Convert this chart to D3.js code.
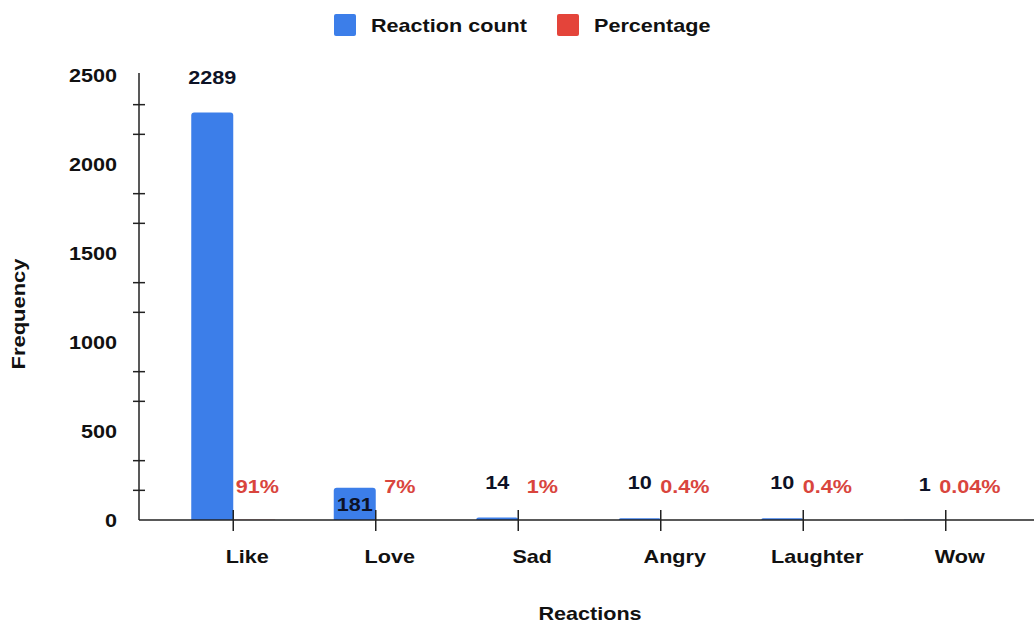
<!DOCTYPE html>
<html>
<head>
<meta charset="utf-8">
<script src="https://cdn.jsdelivr.net/npm/d3@7/dist/d3.min.js"></script>
<style>
  html, body { margin: 0; padding: 0; background: #fff; }
  svg { display: block; font-family: "Liberation Sans", Arial, sans-serif; font-weight: bold; }
</style>
</head>
<body>
<div id="chart"></div>
<script>
var categories = ["Like", "Love", "Sad", "Angry", "Laughter", "Wow"];
var reactionCount = [2289, 181, 14, 10, 10, 1];
var percentage = [0.91, 0.07, 0.01, 0.004, 0.004, 0.0004];
var percentLabels = ["91%", "7%", "1%", "0.4%", "0.4%", "0.04%"];
var yTicks = [0, 500, 1000, 1500, 2000, 2500];
var seriesNames = ["Reaction count", "Percentage"];

var blue = "#3c7ee9", red = "#e4443a", redText = "#d9453d";
var stretch = 1.2; // the reference text is drawn a little wide
var fontSize = 18;

var W = 1034, H = 624;
var svg = d3.select("#chart").append("svg")
    .attr("width", W).attr("height", H);

var y = d3.scaleLinear().domain([0, 2500]).range([520, 75]);
var x = d3.scaleBand().domain(categories).range([162, 1017]).padding(0);
var inner = d3.scaleBand().domain(seriesNames).range([-42, 42]).padding(0);
function cx(c) { return x(c) + x.bandwidth() / 2; }

function label(g, px, py, txt, anchor) {
    return g.append("text")
        .attr("transform", "translate(" + px + "," + py + ") scale(" + stretch + ",1)")
        .attr("text-anchor", anchor || "middle")
        .style("font-size", fontSize + "px")
        .text(txt);
}

// y axis
var yAxis = svg.append("g").attr("transform", "translate(139,0)")
    .call(d3.axisLeft(y).tickValues(yTicks).tickFormat(d3.format("d"))
        .tickSize(0).tickPadding(0).tickSizeOuter(0));
yAxis.select(".domain").attr("stroke", "#222").attr("stroke-width", 1.5)
    .attr("d", "M0," + (y(2500) - 2) + "V" + y(0));
yAxis.selectAll(".tick text")
    .attr("x", 0).attr("dy", null).attr("y", 6)
    .attr("transform", "translate(-22,0) scale(" + stretch + ",1)")
    .style("font-size", fontSize + "px")
    .style("font-family", "Liberation Sans, Arial, sans-serif")
    .style("font-weight", "bold")
    .attr("fill", "#111");

var minor = d3.range(1, 15).filter(function(k) { return k % 3 !== 0; })
    .map(function(k) { return k * 500 / 3; });
svg.append("g").selectAll("line").data(minor).enter().append("line")
    .attr("x1", 133).attr("x2", 145)
    .attr("y1", function(d) { return y(d); }).attr("y2", function(d) { return y(d); })
    .attr("stroke", "#222").attr("stroke-width", 1.5);

// bars
function topRounded(x0, y0, w, h, r) {
    r = Math.min(r, h, w / 2);
    return "M" + x0 + "," + (y0 + h) + "V" + (y0 + r) +
        "Q" + x0 + "," + y0 + " " + (x0 + r) + "," + y0 +
        "H" + (x0 + w - r) + "Q" + (x0 + w) + "," + y0 + " " + (x0 + w) + "," + (y0 + r) +
        "V" + (y0 + h) + "Z";
}
var rows = categories.map(function(c, i) {
    return { cat: c, count: reactionCount[i], pct: percentage[i], pctLabel: percentLabels[i] };
});

svg.append("g").selectAll("path").data(rows).enter().append("path")
    .attr("fill", blue)
    .attr("d", function(d) {
        var h = y(0) - y(d.count);
        return topRounded(cx(d.cat) + inner("Reaction count"), y(d.count), inner.bandwidth(), h, 3);
    });
svg.append("g").selectAll("path").data(rows).enter().append("path")
    .attr("fill", red)
    .attr("d", function(d) {
        var h = y(0) - y(d.pct);
        return topRounded(cx(d.cat) + inner("Percentage"), y(d.pct), inner.bandwidth(), h, 3);
    });

// x axis
svg.append("line").attr("x1", 139).attr("x2", W).attr("y1", y(0)).attr("y2", y(0))
    .attr("stroke", "#222").attr("stroke-width", 1.5);
svg.append("g").selectAll("line").data(categories).enter().append("line")
    .attr("x1", function(d) { return cx(d); }).attr("x2", function(d) { return cx(d); })
    .attr("y1", 510).attr("y2", 531)
    .attr("stroke", "#222").attr("stroke-width", 1.5);

var txt = svg.append("g").attr("fill", "#111");
categories.forEach(function(c) { label(txt, cx(c) + 14, 563, c); });

// value labels
rows.forEach(function(d) {
    var bx = cx(d.cat) + inner("Reaction count") + inner.bandwidth() / 2;
    var h = y(0) - y(d.count);
    var inside = h > 25 && h < 60;
    label(txt, bx, inside ? y(d.count) + 23 : y(d.count) - 29, String(d.count))
        .attr("fill", "#0d1226");
    var px = cx(d.cat) + inner("Percentage") + inner.bandwidth() / 2 + 3;
    label(txt, px, y(d.pct) - 27, d.pctLabel).attr("fill", redText);
});

// axis titles
label(txt, 590, 620, "Reactions");
txt.append("text")
    .attr("transform", "translate(25,314) rotate(-90) scale(1.22,1)")
    .attr("text-anchor", "middle")
    .style("font-size", fontSize + "px")
    .text("Frequency");

// legend
var legend = svg.append("g");
var lg = [{ name: seriesNames[0], color: blue, x: 334, tx: 371 },
          { name: seriesNames[1], color: red, x: 557, tx: 594 }];
lg.forEach(function(l) {
    legend.append("rect").attr("x", l.x).attr("y", 14).attr("width", 22).attr("height", 22)
        .attr("rx", 2).attr("fill", l.color);
    label(legend, l.tx, 32, l.name, "start").attr("fill", "#111");
});
</script>
</body>
</html>
